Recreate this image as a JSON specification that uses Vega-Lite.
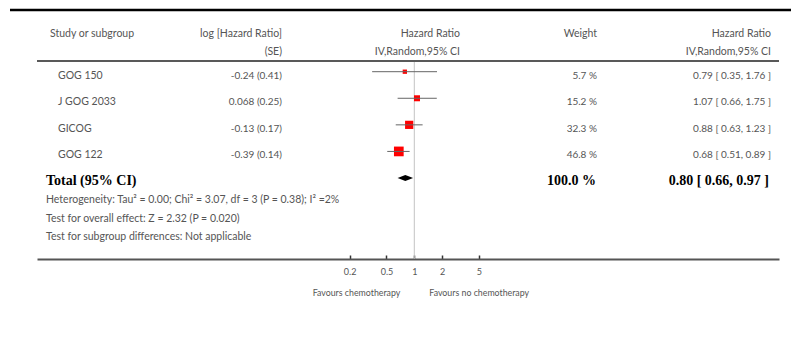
{
  "$schema": "https://vega.github.io/schema/vega-lite/v6.json",
  "width": 791,
  "height": 259,
  "autosize": {"type": "none"},
  "padding": {"left": 0, "top": 0, "right": 0, "bottom": 84},
  "background": "white",
  "config": {"view": {"stroke": null}, "text": {"font": "Lato"}},
  "datasets": {
    "studies": [
      {"study": "GOG 150", "logse": "-0.24 (0.41)", "hr": 0.79, "lo": 0.35, "hi": 1.76, "weight": 5.7, "wlabel": "5.7 %", "ci": "0.79 [ 0.35, 1.76 ]", "row": 1},
      {"study": "J GOG 2033", "logse": "0.068 (0.25)", "hr": 1.07, "lo": 0.66, "hi": 1.75, "weight": 15.2, "wlabel": "15.2 %", "ci": "1.07 [ 0.66, 1.75 ]", "row": 2},
      {"study": "GICOG", "logse": "-0.13 (0.17)", "hr": 0.88, "lo": 0.63, "hi": 1.23, "weight": 32.3, "wlabel": "32.3 %", "ci": "0.88 [ 0.63, 1.23 ]", "row": 3},
      {"study": "GOG 122", "logse": "-0.39 (0.14)", "hr": 0.68, "lo": 0.51, "hi": 0.89, "weight": 46.8, "wlabel": "46.8 %", "ci": "0.68 [ 0.51, 0.89 ]", "row": 4}
    ],
    "total": [
      {"label": "Total (95% CI)", "hr": 0.80, "lo": 0.66, "hi": 0.97, "wlabel": "100.0 %", "ci": "0.80 [ 0.66, 0.97 ]", "row": 5}
    ],
    "header": [
      {"col": "study", "line": 1, "text": "Study or subgroup"},
      {"col": "logse", "line": 1, "text": "log [Hazard Ratio]"},
      {"col": "logse", "line": 2, "text": "(SE)"},
      {"col": "plot", "line": 1, "text": "Hazard Ratio"},
      {"col": "plot", "line": 2, "text": "IV,Random,95% CI"},
      {"col": "weight", "line": 1, "text": "Weight"},
      {"col": "ci", "line": 1, "text": "Hazard Ratio"},
      {"col": "ci", "line": 2, "text": "IV,Random,95% CI"}
    ],
    "notes": [
      {"line": 1, "text": "Heterogeneity: Tau² = 0.00; Chi² = 3.07, df = 3 (P = 0.38); I² =2%"},
      {"line": 2, "text": "Test for overall effect: Z = 2.32 (P = 0.020)"},
      {"line": 3, "text": "Test for subgroup differences: Not applicable"}
    ]
  },
  "resolve": {"scale": {"y": "independent"}},
  "layer": [
    {
      "data": {"values": [{"ref": 1}]},
      "mark": {"type": "rule", "color": "#c4c4c4", "strokeWidth": 1},
      "encoding": {
        "x": {
          "field": "ref", "type": "quantitative", "title": null,
          "scale": {"type": "log", "domain": [0.00008337, 8764], "range": [37, 779]},
          "axis": {"values": [0.2, 0.5, 1, 2, 5], "format": "~g", "title": null, "grid": false,
                   "domainColor": "#555", "domainWidth": 2, "tickColor": "#333", "tickSize": -4, "tickWidth": 1.5,
                   "labelFont": "Lato", "labelFontSize": 9, "labelColor": "#555", "labelPadding": 12,
                   "labelFlush": false, "labelOverlap": false}
        },
        "y": {"value": 62},
        "y2": {"value": 259}
      }
    },
    {
      "data": {"values": [{}]},
      "mark": {"type": "rule", "color": "#000", "strokeWidth": 2.5},
      "encoding": {"x": {"value": 10}, "x2": {"value": 791}, "y": {"value": 10}}
    },
    {
      "data": {"values": [{}]},
      "mark": {"type": "rule", "color": "#222", "strokeWidth": 1.5},
      "encoding": {"x": {"value": 37}, "x2": {"value": 779}, "y": {"value": 61}}
    },
    {
      "data": {"name": "studies"},
      "encoding": {
        "y": {"field": "row", "type": "quantitative", "scale": {"domain": [1, 5], "range": [71.7, 178]}, "axis": null}
      },
      "layer": [
        {
          "mark": {"type": "point", "shape": "square", "filled": true, "color": "#ff0000", "opacity": 1},
          "encoding": {
            "x": {"field": "hr", "type": "quantitative", "title": null, "scale": {"type": "log", "domain": [0.00008337, 8764], "range": [37, 779]}},
            "size": {"field": "weight", "type": "quantitative", "scale": {"domain": [0, 50], "range": [8, 100]}, "legend": null}
          }
        },
        {
          "mark": {"type": "rule", "color": "#666", "strokeWidth": 1},
          "encoding": {
            "x": {"field": "lo", "type": "quantitative", "title": null, "scale": {"type": "log", "domain": [0.00008337, 8764], "range": [37, 779]}},
            "x2": {"field": "hi"}
          }
        },
        {
          "mark": {"type": "text", "align": "left", "baseline": "alphabetic", "dy": 7, "fontSize": 10.5, "color": "#555"},
          "encoding": {"x": {"value": 58}, "text": {"field": "study"}}
        },
        {
          "mark": {"type": "text", "align": "right", "baseline": "alphabetic", "dy": 7, "fontSize": 10, "color": "#555"},
          "encoding": {"x": {"value": 282}, "text": {"field": "logse"}}
        },
        {
          "mark": {"type": "text", "align": "right", "baseline": "alphabetic", "dy": 7, "fontSize": 10, "color": "#555"},
          "encoding": {"x": {"value": 597}, "text": {"field": "wlabel"}}
        },
        {
          "mark": {"type": "text", "align": "right", "baseline": "alphabetic", "dy": 7, "fontSize": 10, "color": "#555"},
          "encoding": {"x": {"value": 771}, "text": {"field": "ci"}}
        },
        {
          "data": {"name": "total"},
          "mark": {"type": "point", "shape": "M-1,0L0,-0.39L1,0L0,0.39Z", "filled": true, "color": "#000", "opacity": 1, "size": 240},
          "encoding": {
            "x": {"field": "hr", "type": "quantitative", "title": null, "scale": {"type": "log", "domain": [0.00008337, 8764], "range": [37, 779]}}
          }
        },
        {
          "data": {"name": "total"},
          "mark": {"type": "text", "align": "left", "baseline": "alphabetic", "dy": 7, "font": "Liberation Serif", "fontWeight": "bold", "fontSize": 14, "color": "#000"},
          "encoding": {"x": {"value": 46}, "text": {"field": "label"}}
        },
        {
          "data": {"name": "total"},
          "mark": {"type": "text", "align": "right", "baseline": "alphabetic", "dy": 7, "font": "Liberation Serif", "fontWeight": "bold", "fontSize": 14, "color": "#000"},
          "encoding": {"x": {"value": 596}, "text": {"field": "wlabel"}}
        },
        {
          "data": {"name": "total"},
          "mark": {"type": "text", "align": "right", "baseline": "alphabetic", "dy": 7, "font": "Liberation Serif", "fontWeight": "bold", "fontSize": 14, "color": "#000"},
          "encoding": {"x": {"value": 769}, "text": {"field": "ci"}}
        }
      ]
    },
    {
      "data": {"name": "header"},
      "encoding": {
        "y": {"field": "line", "type": "quantitative", "scale": {"domain": [1, 2], "range": [36.5, 54.5]}, "axis": null},
        "text": {"field": "text"}
      },
      "layer": [
        {
          "transform": [{"filter": "datum.col === 'study'"}],
          "mark": {"type": "text", "align": "left", "baseline": "alphabetic", "fontSize": 10.5, "color": "#555"},
          "encoding": {"x": {"value": 50}}
        },
        {
          "transform": [{"filter": "datum.col === 'logse'"}],
          "mark": {"type": "text", "align": "right", "baseline": "alphabetic", "fontSize": 10.5, "color": "#555"},
          "encoding": {"x": {"value": 282}}
        },
        {
          "transform": [{"filter": "datum.col === 'plot'"}],
          "mark": {"type": "text", "align": "right", "baseline": "alphabetic", "fontSize": 10.5, "color": "#555"},
          "encoding": {"x": {"value": 460}}
        },
        {
          "transform": [{"filter": "datum.col === 'weight'"}],
          "mark": {"type": "text", "align": "right", "baseline": "alphabetic", "fontSize": 10.5, "color": "#555"},
          "encoding": {"x": {"value": 597}}
        },
        {
          "transform": [{"filter": "datum.col === 'ci'"}],
          "mark": {"type": "text", "align": "right", "baseline": "alphabetic", "fontSize": 10.5, "color": "#555"},
          "encoding": {"x": {"value": 771}}
        }
      ]
    },
    {
      "data": {"name": "notes"},
      "mark": {"type": "text", "align": "left", "baseline": "alphabetic", "fontSize": 10.5, "color": "#555"},
      "encoding": {
        "x": {"value": 46},
        "y": {"field": "line", "type": "quantitative", "scale": {"domain": [1, 3], "range": [203.3, 240]}, "axis": null},
        "text": {"field": "text"}
      }
    },
    {
      "data": {"values": [{"text": "Favours chemotherapy"}]},
      "mark": {"type": "text", "align": "right", "baseline": "alphabetic", "dx": -14, "fontSize": 8.8, "color": "#555"},
      "encoding": {
        "x": {"datum": 1, "type": "quantitative", "scale": {"type": "log", "domain": [0.00008337, 8764], "range": [37, 779]}},
        "y": {"value": 296},
        "text": {"field": "text"}
      }
    },
    {
      "data": {"values": [{"text": "Favours no chemotherapy"}]},
      "mark": {"type": "text", "align": "left", "baseline": "alphabetic", "dx": 15, "fontSize": 8.8, "color": "#555"},
      "encoding": {
        "x": {"datum": 1, "type": "quantitative", "scale": {"type": "log", "domain": [0.00008337, 8764], "range": [37, 779]}},
        "y": {"value": 296},
        "text": {"field": "text"}
      }
    }
  ]
}
